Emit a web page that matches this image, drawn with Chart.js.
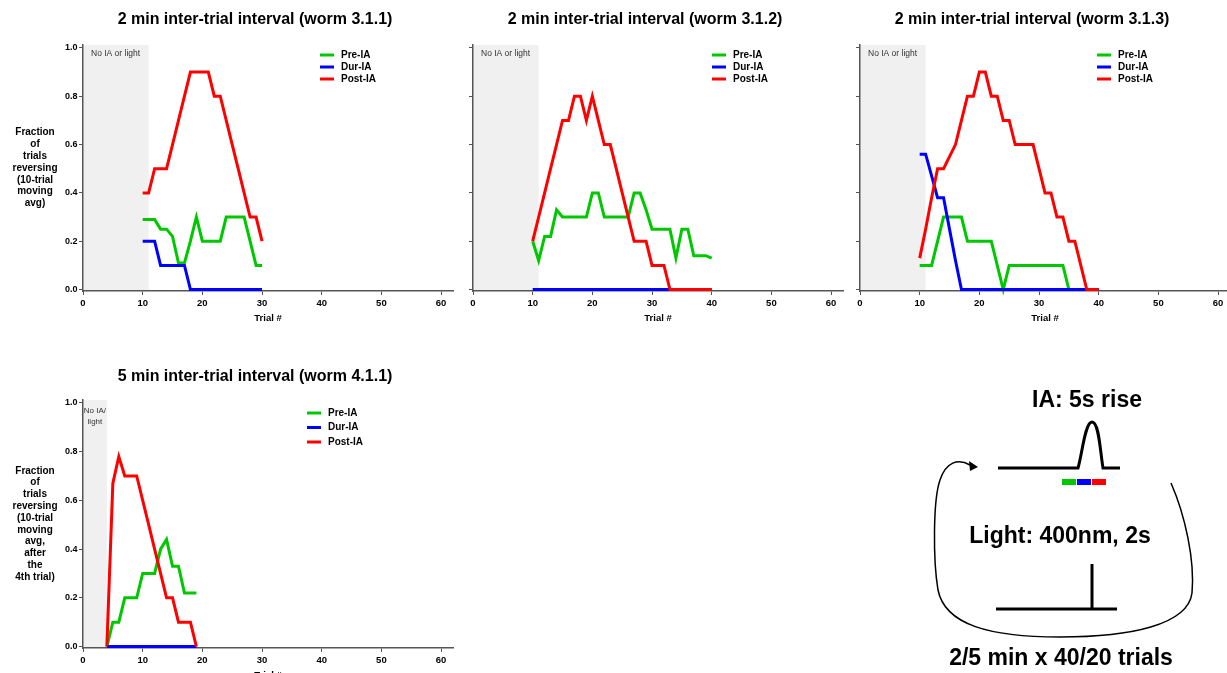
<!DOCTYPE html>
<html>
<head>
<meta charset="utf-8">
<script src="https://cdn.jsdelivr.net/npm/chart.js@4.4.1/dist/chart.umd.min.js"></script>
<style>
  html, body { margin: 0; padding: 0; background: #fff; width: 1227px; height: 673px; overflow: hidden; }
  canvas { position: absolute; }
  #diagram { position: absolute; left: 0; top: 0; }
</style>
</head>
<body>
<canvas id="c1" width="460" height="330" style="left:0px;top:0px"></canvas>
<canvas id="c2" width="460" height="330" style="left:390px;top:0px"></canvas>
<canvas id="c3" width="460" height="330" style="left:777px;top:0px"></canvas>
<canvas id="c4" width="460" height="330" style="left:0px;top:355px"></canvas>

<svg id="diagram" width="1227" height="673" xmlns="http://www.w3.org/2000/svg">
  <g font-family="'Liberation Sans', Arial, sans-serif" font-weight="bold" font-size="23" fill="#000" text-anchor="middle">
    <text x="1087" y="407">IA: 5s rise</text>
    <text x="1060" y="543">Light: 400nm, 2s</text>
    <text x="1061" y="665">2/5 min x 40/20 trials</text>
  </g>
  <!-- odour pulse trace -->
  <path d="M998,468 L1078,468 C1082,455 1085,422 1092,422 C1099,422 1100,450 1103,468 L1120,468"
        fill="none" stroke="#000" stroke-width="3"/>
  <!-- pre / during / post windows -->
  <rect x="1062" y="479" width="14" height="6" fill="rgb(0,200,0)"/>
  <rect x="1077" y="479" width="14" height="6" fill="#0000ff"/>
  <rect x="1092" y="479" width="14" height="6" fill="#ff0000"/>
  <!-- light pulse trace -->
  <path d="M996,609 L1117,609 M1092,609 L1092,564" fill="none" stroke="#000" stroke-width="3"/>
  <!-- repeat loop -->
  <path d="M1171,483 C1185,515 1195,560 1192,593 C1188,625 1130,637 1060,637 C990,637 945,625 938,590 C933,560 933,500 940,480 C946,462 958,458 970,465"
        fill="none" stroke="#000" stroke-width="1.5"/>
  <path d="M978,467 L969,461 L970,471 Z" fill="#000"/>
</svg>

<script>
// ---- data ----
const seriesNames = ['Pre-IA', 'Dur-IA', 'Post-IA'];
const xTickValues = [0, 10, 20, 30, 40, 50, 60];
const yTickValues = [0, 0.2, 0.4, 0.6, 0.8, 1.0];

// worm 3.1.1 (2 min ITI)
const trials311 = [10, 11, 12, 13, 14, 15, 16, 17, 18, 19, 20, 21, 22, 23, 24, 25, 26, 27, 28, 29, 30];
const pre311  = [0.29, 0.29, 0.29, 0.25, 0.25, 0.22, 0.11, 0.11, 0.2, 0.3, 0.2, 0.2, 0.2, 0.2, 0.3, 0.3, 0.3, 0.3, 0.2, 0.1, 0.1];
const dur311  = [0.2, 0.2, 0.2, 0.1, 0.1, 0.1, 0.1, 0.1, 0, 0, 0, 0, 0, 0, 0, 0, 0, 0, 0, 0, 0];
const post311 = [0.4, 0.4, 0.5, 0.5, 0.5, 0.6, 0.7, 0.8, 0.9, 0.9, 0.9, 0.9, 0.8, 0.8, 0.7, 0.6, 0.5, 0.4, 0.3, 0.3, 0.2];

// worm 3.1.2 (2 min ITI)
const trials312 = [10, 11, 12, 13, 14, 15, 16, 17, 18, 19, 20, 21, 22, 23, 24, 25, 26, 27, 28, 29, 30, 31, 32, 33, 34, 35, 36, 37, 38, 39, 40];
const pre312  = [0.2, 0.12, 0.22, 0.22, 0.33, 0.3, 0.3, 0.3, 0.3, 0.3, 0.4, 0.4, 0.3, 0.3, 0.3, 0.3, 0.3, 0.4, 0.4, 0.33, 0.25, 0.25, 0.25, 0.25, 0.13, 0.25, 0.25, 0.14, 0.14, 0.14, 0.13];
const dur312  = [0, 0, 0, 0, 0, 0, 0, 0, 0, 0, 0, 0, 0, 0, 0, 0, 0, 0, 0, 0, 0, 0, 0, 0, 0, 0, 0, 0, 0, 0, 0];
const post312 = [0.2, 0.3, 0.4, 0.5, 0.6, 0.7, 0.7, 0.8, 0.8, 0.7, 0.8, 0.7, 0.6, 0.6, 0.5, 0.4, 0.3, 0.2, 0.2, 0.2, 0.1, 0.1, 0.1, 0, 0, 0, 0, 0, 0, 0, 0];

// worm 3.1.3 (2 min ITI)
const trials313 = [10, 11, 12, 13, 14, 15, 16, 17, 18, 19, 20, 21, 22, 23, 24, 25, 26, 27, 28, 29, 30, 31, 32, 33, 34, 35, 36, 37, 38, 39, 40];
const pre313  = [0.1, 0.1, 0.1, 0.2, 0.3, 0.3, 0.3, 0.3, 0.2, 0.2, 0.2, 0.2, 0.2, 0.1, 0, 0.1, 0.1, 0.1, 0.1, 0.1, 0.1, 0.1, 0.1, 0.1, 0.1, 0, 0, 0, 0, 0, 0];
const dur313  = [0.56, 0.56, 0.47, 0.38, 0.38, 0.25, 0.12, 0, 0, 0, 0, 0, 0, 0, 0, 0, 0, 0, 0, 0, 0, 0, 0, 0, 0, 0, 0, 0, 0, 0, 0];
const post313 = [0.13, 0.25, 0.38, 0.5, 0.5, 0.55, 0.6, 0.7, 0.8, 0.8, 0.9, 0.9, 0.8, 0.8, 0.7, 0.7, 0.6, 0.6, 0.6, 0.6, 0.5, 0.4, 0.4, 0.3, 0.3, 0.2, 0.2, 0.1, 0, 0, 0];

// worm 4.1.1 (5 min ITI)
const trials411 = [4, 5, 6, 7, 8, 9, 10, 11, 12, 13, 14, 15, 16, 17, 18, 19];
const pre411  = [0, 0.1, 0.1, 0.2, 0.2, 0.2, 0.3, 0.3, 0.3, 0.4, 0.44, 0.33, 0.33, 0.22, 0.22, 0.22];
const dur411  = [0, 0, 0, 0, 0, 0, 0, 0, 0, 0, 0, 0, 0, 0, 0, 0];
const post411 = [0, 0.67, 0.78, 0.7, 0.7, 0.7, 0.6, 0.5, 0.4, 0.3, 0.2, 0.2, 0.1, 0.1, 0.1, 0];

// ---- styling ----
const FONT = '"Liberation Sans", Arial, sans-serif';
const GREEN = 'rgb(0,200,0)';
const BLUE = '#0000ff';
const RED = '#ff0000';
const AXIS = '#555';

// Shaded baseline window, panel title, y-axis caption and inline legend
function makeDecor(d) {
  return {
    id: 'panelDecor',
    beforeDraw(chart) {
      const { ctx, chartArea: a, scales: { x } } = chart;
      const x0 = x.getPixelForValue(0), x1 = x.getPixelForValue(d.shadeTo);
      ctx.save();
      ctx.fillStyle = '#f0f0f0';
      ctx.fillRect(x0, a.top, x1 - x0, a.bottom - a.top);
      ctx.fillStyle = '#333';
      ctx.font = d.shadeFont;
      ctx.textBaseline = 'middle';
      ctx.textAlign = d.shadeAlign;
      const tx = d.shadeAlign === 'center' ? (x0 + x1) / 2 : x0 + 8;
      d.shadeText.forEach((s, i) => ctx.fillText(s, tx, a.top + d.shadeY + i * 11));
      ctx.restore();
    },
    afterDraw(chart) {
      const { ctx, chartArea: a } = chart;
      ctx.save();
      ctx.fillStyle = '#000';
      ctx.textBaseline = 'middle';
      ctx.textAlign = 'center';
      ctx.font = 'bold 16px ' + FONT;
      ctx.fillText(d.title, (a.left + a.right) / 2 + d.titleDx, d.titleY);
      if (d.yTitle) {
        ctx.font = 'bold 10px ' + FONT;
        const n = d.yTitle.length, mid = (a.top + a.bottom) / 2;
        d.yTitle.forEach((s, i) => ctx.fillText(s, d.yTitleX, mid + (i - (n - 1) / 2) * 11.8));
      }
      ctx.textAlign = 'left';
      ctx.font = 'bold 10px ' + FONT;
      chart.data.datasets.forEach((ds, i) => {
        const ly = a.top + d.legendY + i * d.legendGap;
        const lx = a.left + d.legendX;
        ctx.strokeStyle = ds.borderColor;
        ctx.lineWidth = 3;
        ctx.beginPath();
        ctx.moveTo(lx, ly);
        ctx.lineTo(lx + 14, ly);
        ctx.stroke();
        ctx.fillText(ds.label, lx + 21, ly);
      });
      ctx.restore();
    }
  };
}

function series(label, trials, vals, color, order) {
  return {
    label,
    data: trials.map((t, i) => ({ x: t, y: vals[i] })),
    borderColor: color,
    backgroundColor: color,
    borderWidth: 3,
    pointRadius: 0,
    tension: 0,
    fill: false,
    clip: false,
    order
  };
}

function buildPanel(id, trials, pre, dur, post, d, g) {
  const gridOpts = { display: true, drawOnChartArea: false, drawTicks: true, tickLength: 4, color: AXIS, lineWidth: 1 };
  const borderOpts = { display: true, color: AXIS, width: 1.5 };
  return new Chart(document.getElementById(id), {
    type: 'line',
    data: {
      datasets: [
        series(seriesNames[0], trials, pre, GREEN, 2),
        series(seriesNames[1], trials, dur, BLUE, 1),
        series(seriesNames[2], trials, post, RED, 0)
      ]
    },
    options: {
      responsive: false,
      animation: false,
      events: [],
      devicePixelRatio: 1,
      layout: { padding: { left: 0, top: g.top, right: g.right, bottom: 0 } },
      plugins: { legend: { display: false }, tooltip: { enabled: false }, title: { display: false } },
      scales: {
        x: {
          type: 'linear', min: 0, max: 62,
          afterBuildTicks: s => { s.ticks = xTickValues.map(v => ({ value: v })); },
          afterFit: s => { s.height = g.xh; },
          ticks: { autoSkip: false, maxRotation: 0, padding: 3, color: '#000',
                   font: { family: FONT, size: 9.5, weight: 'bold' } },
          grid: gridOpts,
          border: borderOpts,
          title: { display: true, text: 'Trial #', color: '#000',
                   font: { family: FONT, size: 9.5, weight: 'bold' },
                   padding: { top: 0, bottom: g.tpad } }
        },
        y: {
          type: 'linear', min: -0.006, max: 1.012,
          afterBuildTicks: s => { s.ticks = yTickValues.map(v => ({ value: v })); },
          afterFit: s => { s.width = 83; },
          ticks: { autoSkip: false, padding: 1.5, color: '#000',
                   font: { family: FONT, size: 9, weight: 'bold' },
                   callback: v => (d.yLabels ? Number(v).toFixed(1) : '') },
          grid: gridOpts,
          border: borderOpts
        }
      }
    },
    plugins: [makeDecor(d)]
  });
}

const yCaption2min = ['Fraction', 'of', 'trials', 'reversing', '(10-trial', 'moving', 'avg)'];
const yCaption5min = ['Fraction', 'of', 'trials', 'reversing', '(10-trial', 'moving', 'avg,', 'after', 'the', '4th trial)'];

const wideShade = { shadeTo: 11, shadeText: ['No IA or light'], shadeAlign: 'left', shadeY: 9,
                    shadeFont: '8.5px ' + FONT };
const geomTop = { top: 45, right: 7, xh: 39, tpad: 6.3 };

buildPanel('c1', trials311, pre311, dur311, post311,
  Object.assign({ title: '2 min inter-trial interval (worm 3.1.1)', titleY: 20, titleDx: -13,
    yTitle: yCaption2min, yTitleX: 35, yLabels: true, legendX: 237, legendY: 10, legendGap: 12 }, wideShade),
  geomTop);

buildPanel('c2', trials312, pre312, dur312, post312,
  Object.assign({ title: '2 min inter-trial interval (worm 3.1.2)', titleY: 20, titleDx: -13,
    yTitle: null, yLabels: false, legendX: 239, legendY: 10, legendGap: 12 }, wideShade),
  geomTop);

buildPanel('c3', trials313, pre313, dur313, post313,
  Object.assign({ title: '2 min inter-trial interval (worm 3.1.3)', titleY: 20, titleDx: -13,
    yTitle: null, yLabels: false, legendX: 237, legendY: 10, legendGap: 12 }, wideShade),
  geomTop);

buildPanel('c4', trials411, pre411, dur411, post411,
  { title: '5 min inter-trial interval (worm 4.1.1)', titleY: 22, titleDx: -13,
    yTitle: yCaption5min, yTitleX: 35, yLabels: true, legendX: 224, legendY: 13, legendGap: 14.5,
    shadeTo: 4, shadeText: ['No IA/', 'light'], shadeAlign: 'center', shadeY: 11, shadeFont: '8px ' + FONT },
  { top: 45, right: 7, xh: 37, tpad: 4.3 });
</script>
</body>
</html>
